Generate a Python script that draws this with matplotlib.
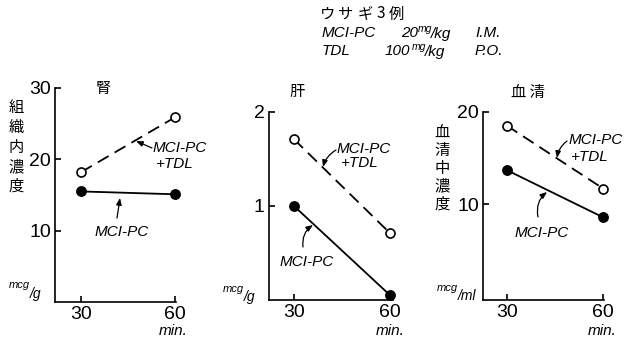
import matplotlib
matplotlib.use("Agg")
import matplotlib.pyplot as plt

plt.rcParams['font.family'] = ['Liberation Sans', 'Noto Sans CJK JP', 'DejaVu Sans']
plt.rcParams['lines.scale_dashes'] = False

# 時間 (min)
times = [30, 60]

# 腎 (mcg/g)
kidney_pc = [15.5, 15.1]
kidney_pc_tdl = [18.2, 25.9]
# 肝 (mcg/g)
liver_pc = [1.0, 0.05]
liver_pc_tdl = [1.71, 0.71]
# 血清 (mcg/ml)
serum_pc = [13.7, 8.6]
serum_pc_tdl = [18.5, 11.7]

W, H = 627, 341
fig = plt.figure(figsize=(W / 100, H / 100), dpi=100)

JP = ['Noto Sans CJK JP', 'DejaVu Sans']
SANS = ['Liberation Sans', 'DejaVu Sans']


def box(left, right, top, bottom):
    return [left / W, 1 - bottom / H, (right - left) / W, (bottom - top) / H]


def txt(x, y, s, **kw):
    kw.setdefault('ha', 'left')
    kw.setdefault('va', 'center')
    fig.text(x / W, 1 - y / H, s, **kw)


def arrow(tail, tip, rad=0.0):
    fig.add_artist(matplotlib.patches.FancyArrowPatch(
        (tail[0] / W, 1 - tail[1] / H), (tip[0] / W, 1 - tip[1] / H),
        transform=fig.transFigure, arrowstyle='-|>,head_length=4,head_width=1.6',
        connectionstyle=f'arc3,rad={rad}', color='black', lw=0.9,
        shrinkA=0, shrinkB=0))


def panel(pos, xlim, ylim, yticks, pc, pc_tdl):
    ax = fig.add_axes(box(*pos))
    ax.plot(times, pc_tdl, color='black', lw=1.3, dashes=(9, 5),
            marker='o', ms=6.5, mfc='white', mec='black', mew=1.2, clip_on=False)
    ax.plot(times, pc, color='black', lw=1.3,
            marker='o', ms=6.8, mfc='black', mec='black', clip_on=False)
    ax.set_xlim(*xlim)
    ax.set_ylim(*ylim)
    ax.set_xticks(times)
    ax.set_yticks(yticks)
    ax.tick_params(direction='in', length=4, width=1.2, pad=3, labelsize=14)
    for s in ['top', 'right']:
        ax.spines[s].set_visible(False)
    for s in ['left', 'bottom']:
        ax.spines[s].set_linewidth(1.2)
    ax.patch.set_alpha(0)
    return ax


panel((55, 176, 88, 302), (21.7, 60.3), (0, 30), [10, 20, 30], kidney_pc, kidney_pc_tdl)
panel((269, 393, 112, 300), (22.2, 60.9), (0, 2), [1, 2], liver_pc, liver_pc_tdl)
panel((483, 604, 111.7, 300), (22.6, 60.2), (-0.3, 20), [10, 20], serum_pc, serum_pc_tdl)

# 見出し
for x, ch in zip([328, 345, 365, 381, 396], 'ウサギ3例'):
    txt(x, 14, ch, family=JP, fontsize=11, ha='center')
ital = dict(family=SANS, style='italic', fontsize=11)
small = dict(family=SANS, style='italic', fontsize=7.5)
txt(322, 33, 'MCI-PC', **ital)
txt(401, 33, '20', **ital)
txt(418, 29, 'mg', **small)
txt(431, 34, '/kg', **ital)
txt(475, 33, 'I.M.', **ital)
txt(322, 51, 'TDL', **ital)
txt(385, 51, '100', **ital)
txt(412, 47, 'mg', **small)
txt(425, 52, '/kg', **ital)
txt(475, 51, 'P.O.', **ital)

# パネル名
txt(103, 89, '腎', family=JP, fontsize=11, ha='center')
txt(297, 91, '肝', family=JP, fontsize=11, ha='center')
txt(528, 92, '血 清', family=JP, fontsize=11, ha='center')

# 縦軸名
for i, ch in enumerate('組織内濃度'):
    txt(16, 108 + i * 19.5, ch, family=JP, fontsize=11, ha='center')
for i, ch in enumerate('血清中濃度'):
    txt(442, 132 + i * 18, ch, family=JP, fontsize=11, ha='center')

# 単位
unit = dict(family=SANS, style='italic')
txt(9, 285, 'mcg', fontsize=8, **unit)
txt(30, 294, '/g', fontsize=10, **unit)
txt(223, 289, 'mcg', fontsize=8, **unit)
txt(244, 297, '/g', fontsize=10, **unit)
txt(437, 288, 'mcg', fontsize=8, **unit)
txt(458, 296, '/ml', fontsize=10, **unit)
for x in (173, 390, 602):
    txt(x, 331, 'min.', fontsize=11, ha='center', **unit)

# 系列ラベルと矢印
txt(153, 148, 'MCI-PC', **ital)
txt(155, 164, '+TDL', **ital)
arrow((152, 148), (136, 141))
txt(95, 232, 'MCI-PC', **ital)
arrow((117, 218), (120, 198))

txt(337, 149, 'MCI-PC', **ital)
txt(340, 163, '+TDL', **ital)
arrow((336, 150), (323, 167), rad=0.2)
txt(280, 262, 'MCI-PC', **ital)
arrow((303, 247), (313, 225), rad=-0.3)

txt(569, 140, 'MCI-PC', **ital)
txt(570, 157, '+TDL', **ital)
arrow((567, 141), (557, 158), rad=0.2)
txt(515, 233, 'MCI-PC', **ital)
arrow((538, 217), (547, 192), rad=-0.3)

fig.savefig('out.png', dpi=100)
